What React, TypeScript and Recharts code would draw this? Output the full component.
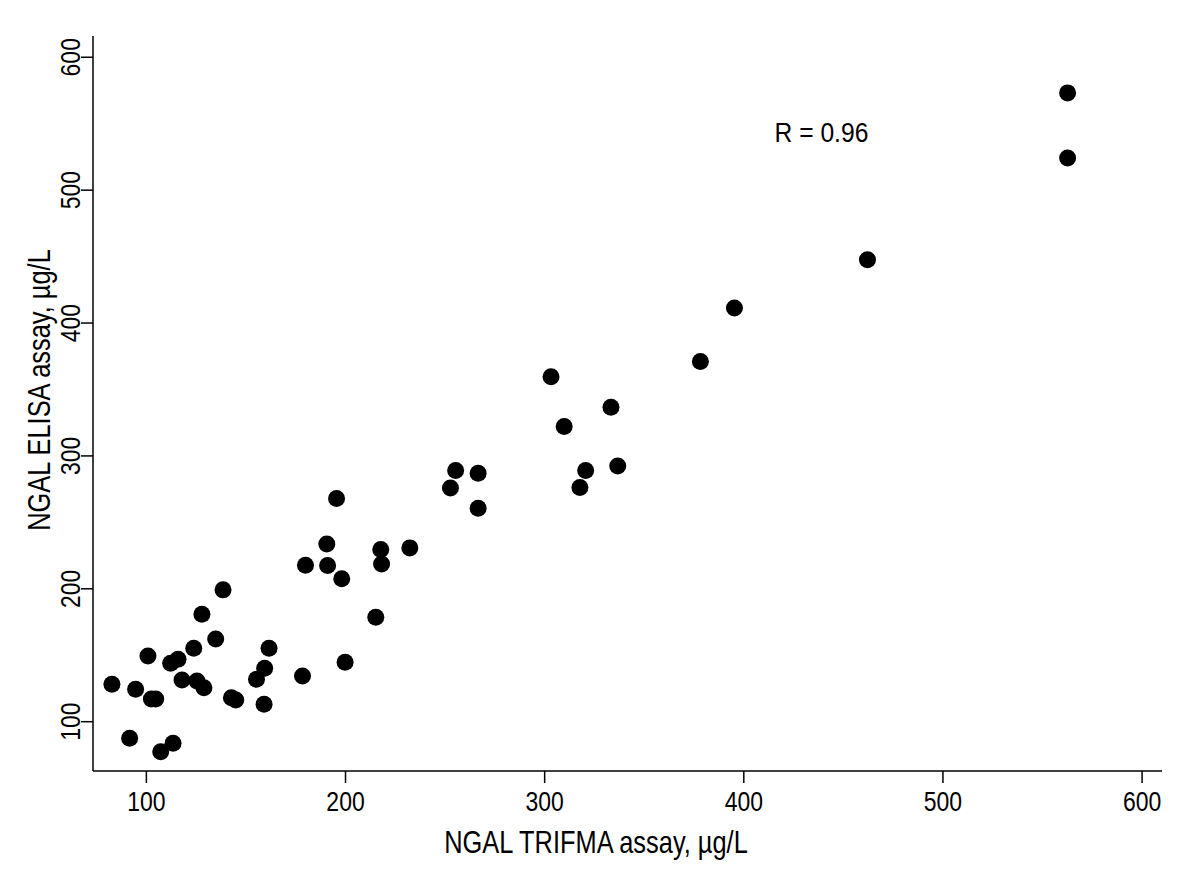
import React from "react";
import { ScatterChart, Scatter, XAxis, YAxis, ReferenceDot } from "recharts";

const trifma = [
  82.7, 91.6, 94.6, 100.8, 102.5, 104.7, 107.2, 113.4, 112.2, 115.9,
  117.9, 123.8, 127.9, 125.4, 128.9, 134.8, 138.5, 142.7, 144.9, 155.3,
  159.4, 161.6, 159.1, 178.4, 199.8, 215.2, 198.1, 179.9, 191.0, 190.6,
  195.5, 217.7, 218.1, 232.3, 252.7, 255.3, 266.6, 266.6, 303.2, 309.8,
  317.7, 320.6, 333.3, 336.7, 378.2, 395.3, 462.1, 562.6, 562.6,
];
const elisa = [
  128.2, 87.5, 124.4, 149.5, 117.1, 117.1, 77.4, 83.7, 144.0, 147.0,
  131.4, 155.3, 180.9, 130.6, 125.6, 162.3, 199.2, 118.1, 116.3, 131.9,
  140.2, 155.3, 113.1, 134.4, 144.7, 178.6, 207.5, 217.8, 217.5, 233.8,
  267.9, 229.5, 218.7, 230.8, 275.8, 289.0, 286.9, 260.7, 359.6, 322.1,
  276.2, 289.0, 336.7, 292.5, 371.1, 411.3, 447.7, 573.2, 524.2,
];
const xTicks = [100, 200, 300, 400, 500, 600];
const yTicks = [100, 200, 300, 400, 500, 600];
const xTitle = "NGAL TRIFMA assay, \u00b5g/L";
const yTitle = "NGAL ELISA assay, \u00b5g/L";
const annotation = "R = 0.96";
const annotationAt = { x: 439, y: 544 };

const data = trifma.map((x, i) => ({ x, y: elisa[i] }));

const FONT = "'Liberation Sans', Arial, sans-serif";
const SQ = 0.82;

const XTick = (props: any) => {
  const { x, y, payload } = props;
  return (
    <text
      transform={`translate(${x}, ${y + 26}) scale(${SQ}, 1)`}
      textAnchor="middle"
      fontFamily={FONT}
      fontSize={28}
      fill="#000"
    >
      {payload.value}
    </text>
  );
};

const YTick = (props: any) => {
  const { x, y, payload } = props;
  return (
    <text
      transform={`translate(${x + 1}, ${y}) rotate(-90) scale(${SQ}, 1)`}
      textAnchor="middle"
      fontFamily={FONT}
      fontSize={28}
      fill="#000"
    >
      {payload.value}
    </text>
  );
};

const Dot = (props: any) => <circle cx={props.cx} cy={props.cy} r={8.5} fill="#000" />;

const RLabel = (props: any) => {
  const vb = props.viewBox || { x: 0, y: 0, width: 0, height: 0 };
  const cx = vb.x + (vb.width || 0) / 2;
  const cy = vb.y + (vb.height || 0) / 2;
  return (
    <text
      transform={`translate(${cx}, ${cy + 10}) scale(0.88, 1)`}
      textAnchor="middle"
      fontFamily={FONT}
      fontSize={28}
      fill="#000"
    >
      {annotation}
    </text>
  );
};

export default function App() {
  return (
    <div style={{ position: "absolute", left: 0, top: 0, background: "#fff" }}>
      <ScatterChart
        width={1200}
        height={879}
        margin={{ top: 36, right: 38, bottom: 0, left: 0 }}
      >
        <XAxis
          type="number"
          dataKey="x"
          domain={[73.2, 610]}
          ticks={xTicks}
          allowDataOverflow
          height={108}
          tickSize={12}
          tick={<XTick />}
          axisLine={{ stroke: "#000", strokeWidth: 1.5 }}
          tickLine={{ stroke: "#000", strokeWidth: 1.5 }}
          label={{
            content: () => (
              <text
                transform={`translate(596, 853) scale(${SQ}, 1)`}
                textAnchor="middle"
                fontFamily={FONT}
                fontSize={31}
                fill="#000"
              >
                {xTitle}
              </text>
            ),
          }}
        />
        <YAxis
          type="number"
          dataKey="y"
          domain={[62.9, 616]}
          ticks={yTicks}
          allowDataOverflow
          width={93}
          tickSize={12}
          tick={<YTick />}
          axisLine={{ stroke: "#000", strokeWidth: 1.5 }}
          tickLine={{ stroke: "#000", strokeWidth: 1.5 }}
          label={{
            content: () => (
              <text
                transform={`translate(50, 390) rotate(-90) scale(${SQ}, 1)`}
                textAnchor="middle"
                fontFamily={FONT}
                fontSize={31}
                fill="#000"
              >
                {yTitle}
              </text>
            ),
          }}
        />
        <Scatter data={data} shape={<Dot />} isAnimationActive={false} />
        <ReferenceDot
          x={annotationAt.x}
          y={annotationAt.y}
          r={0}
          fill="none"
          stroke="none"
          label={<RLabel />}
        />
      </ScatterChart>
    </div>
  );
}
